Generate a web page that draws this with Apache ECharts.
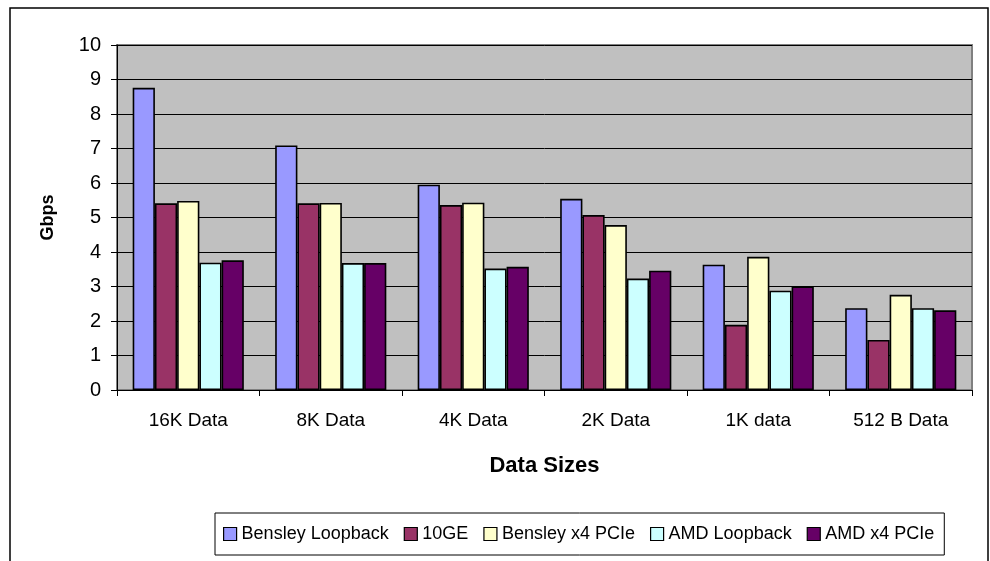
<!DOCTYPE html>
<html>
<head>
<meta charset="utf-8">
<script src="https://cdn.jsdelivr.net/npm/echarts@6/dist/echarts.min.js"></script>
<style>
html,body{margin:0;padding:0;background:#fff;}
#c{width:990px;height:561px;}
</style>
</head>
<body>
<div id="c"></div>
<script>
var categories = ['16K Data', '8K Data', '4K Data', '2K Data', '1K data', '512 B Data'];
var seriesNames = ['Bensley Loopback', '10GE', 'Bensley x4 PCIe', 'AMD Loopback', 'AMD x4 PCIe'];
var bensleyLoopback = [8.76, 7.09, 5.95, 5.54, 3.63, 2.37];
var tenGE = [5.41, 5.41, 5.36, 5.07, 1.89, 1.45];
var bensleyX4 = [5.48, 5.42, 5.43, 4.78, 3.86, 2.76];
var amdLoopback = [3.69, 3.68, 3.52, 3.23, 2.88, 2.37];
var amdX4 = [3.76, 3.68, 3.57, 3.46, 3.00, 2.31];
var yTicks = [0, 1, 2, 3, 4, 5, 6, 7, 8, 9, 10];

var colors = ['#9999FF', '#993366', '#FFFFCC', '#CCFFFF', '#660066'];
var values = [bensleyLoopback, tenGE, bensleyX4, amdLoopback, amdX4];
var font = 'Arial, "Liberation Sans", sans-serif';

var chart = echarts.init(document.getElementById('c'), null, {renderer: 'canvas'});
var series = seriesNames.map(function (n, i) {
  return {
    name: n,
    type: 'bar',
    data: values[i],
    barGap: '0%',
    barCategoryGap: '22%',
    itemStyle: {color: colors[i], borderColor: '#000', borderWidth: 1.6},
    emphasis: {disabled: true}
  };
});

chart.setOption({
  animation: false,
  backgroundColor: '#fff',
  textStyle: {fontFamily: font},
  graphic: [{
    type: 'rect',
    shape: {x: 10, y: 8, width: 978, height: 600},
    style: {fill: 'none', stroke: '#000', lineWidth: 1.5},
    silent: true
  }],
  grid: {
    left: 117, top: 45, right: 18, bottom: 171,
    show: true, backgroundColor: '#C0C0C0', borderColor: '#808080', borderWidth: 2
  },
  legend: {
    data: seriesNames,
    left: 215, top: 513,
    orient: 'horizontal',
    icon: 'rect',
    itemWidth: 13, itemHeight: 13, itemGap: 15,
    padding: [12, 10, 12, 8],
    borderColor: '#000', borderWidth: 1,
    backgroundColor: '#fff',
    itemStyle: {borderColor: '#000', borderWidth: 1.2},
    textStyle: {fontSize: 18, color: '#000', fontFamily: font}
  },
  xAxis: {
    type: 'category',
    data: categories,
    name: 'Data Sizes',
    nameLocation: 'middle',
    nameGap: 65,
    nameTextStyle: {fontSize: 22, fontWeight: 'bold', color: '#000', fontFamily: font},
    axisLine: {lineStyle: {color: '#000', width: 1}},
    axisTick: {show: true, alignWithLabel: false, length: 6, lineStyle: {color: '#000'}},
    axisLabel: {fontSize: 19, color: '#000', margin: 21, fontFamily: font}
  },
  yAxis: {
    type: 'value',
    min: 0, max: 10, interval: 1,
    name: 'Gbps',
    nameLocation: 'middle',
    nameGap: 60,
    nameRotate: 90,
    nameTextStyle: {fontSize: 18, fontWeight: 'bold', color: '#000', fontFamily: font},
    axisLine: {show: true, lineStyle: {color: '#000', width: 1}},
    axisTick: {show: true, length: 6, lineStyle: {color: '#000'}},
    axisLabel: {fontSize: 20, color: '#000', margin: 16, fontFamily: font,
      formatter: function (v) { return yTicks.indexOf(v) >= 0 ? String(v) : ''; }},
    splitLine: {show: true, lineStyle: {color: '#000', width: 1}}
  },
  series: series
});
</script>
</body>
</html>
